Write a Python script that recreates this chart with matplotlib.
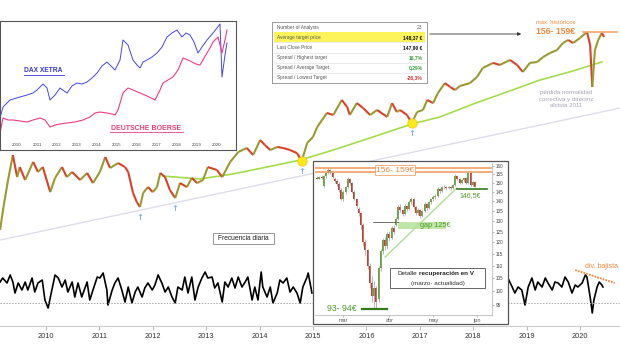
import numpy as np
import matplotlib
matplotlib.use("Agg")
import matplotlib.pyplot as plt
from matplotlib.collections import LineCollection
from matplotlib.patches import Rectangle
from matplotlib.lines import Line2D

plt.rcParams['font.family'] = ['Liberation Sans', 'DejaVu Sans']

#%% data

# main chart: Deutsche Boerse daily close (EUR)
price_t = [2009.14, 2009.21, 2009.29, 2009.38, 2009.46, 2009.51, 2009.61, 2009.76, 2009.85, 2009.94,
           2010.08, 2010.17, 2010.30, 2010.39, 2010.49, 2010.64, 2010.77, 2010.88, 2011.01, 2011.11,
           2011.20, 2011.35, 2011.48, 2011.54, 2011.63, 2011.70, 2011.76, 2011.82, 2011.91, 2012.00,
           2012.08, 2012.14, 2012.23, 2012.32, 2012.42, 2012.51, 2012.64, 2012.73, 2012.83, 2012.94,
           2013.03, 2013.20, 2013.30, 2013.45, 2013.60, 2013.76, 2013.88, 2014.01, 2014.10, 2014.20,
           2014.33, 2014.44, 2014.57, 2014.70, 2014.79, 2014.89, 2015.00, 2015.08, 2015.26, 2015.38,
           2015.54, 2015.64, 2015.69, 2015.82, 2015.94, 2016.07, 2016.20, 2016.39, 2016.48, 2016.57,
           2016.63, 2016.76, 2016.85, 2016.95, 2017.06, 2017.14, 2017.25, 2017.34, 2017.47, 2017.57,
           2017.66, 2017.75, 2017.94, 2018.07, 2018.18, 2018.37, 2018.50, 2018.69, 2018.82, 2018.93,
           2019.06, 2019.20, 2019.31, 2019.44, 2019.57, 2019.68, 2019.78, 2019.87, 2020.00, 2020.13,
           2020.19, 2020.23, 2020.28, 2020.34, 2020.41, 2020.45]
price_p = [24.4, 30.9, 39.1, 49.5, 40.2, 44.2, 39.1, 46.4, 42.2, 44.2,
           34.9, 39.9, 44.2, 40.2, 42.2, 39.1, 41.8, 38.0, 42.2, 48.6,
           43.8, 45.9, 44.2, 42.2, 34.6, 31.8, 30.3, 34.6, 36.6, 34.9,
           36.6, 41.8, 40.2, 35.6, 33.0, 38.0, 36.6, 39.9, 38.0, 39.1,
           44.2, 43.0, 40.2, 46.4, 50.9, 52.9, 49.5, 57.0, 54.4, 51.9,
           53.4, 52.9, 51.9, 50.4, 46.8, 55.4, 58.7, 64.5, 73.6, 72.2,
           83.2, 77.8, 72.2, 80.8, 77.1, 72.2, 75.7, 70.9, 80.8, 74.3,
           75.7, 72.2, 67.0, 74.3, 75.7, 83.2, 80.8, 88.9, 97.6, 94.0,
           91.4, 94.9, 97.6, 103.3, 112.5, 118.0, 115.8, 121.3, 115.8, 108.4,
           118.0, 119.1, 124.8, 129.6, 133.3, 142.4, 146.5, 142.4, 149.3, 158.0,
           139.8, 94.0, 133.3, 146.5, 156.5, 150.7]

# long moving average (green)
ma_t = [2012.19, 2012.88, 2013.50, 2014.14, 2014.76, 2015.38, 2016.01, 2016.85,
        2017.38, 2018.00, 2018.63, 2019.25, 2019.87, 2020.41]
ma_p = [40.6, 39.5, 41.4, 44.2, 47.2, 51.9, 57.6, 66.3, 70.9, 80.1, 89.7, 100.4, 109.4, 119.1]

# 2011 support line (grey)
trend_t = [2009.14, 2020.75]
trend_p = [22.2, 77.1]

# touches of the moving average and swing lows
dots_t = [2014.79, 2016.85]
dots_p = [46.8, 67.0]
lows_t = [2011.76, 2012.42, 2014.79, 2016.85]
lows_p = [30.3, 33.0, 46.8, 67.0]

# all time high zone
max_t = [2020.05, 2020.70]
max_p = [158.0, 158.0]

# oscillator (bottom panel), two visible pieces
osc_a_t = [2009.14, 2009.19, 2009.27, 2009.33, 2009.38, 2009.42, 2009.48, 2009.55, 2009.61, 2009.66,
           2009.74, 2009.79, 2009.85, 2009.93, 2009.98, 2010.04, 2010.11, 2010.17, 2010.23, 2010.30,
           2010.36, 2010.41, 2010.49, 2010.54, 2010.60, 2010.67, 2010.77, 2010.82, 2010.88, 2010.96,
           2011.01, 2011.07, 2011.14, 2011.16, 2011.24, 2011.29, 2011.35, 2011.42, 2011.48, 2011.54,
           2011.61, 2011.67, 2011.72, 2011.80, 2011.85, 2011.91, 2011.99, 2012.04, 2012.10, 2012.17,
           2012.23, 2012.29, 2012.36, 2012.42, 2012.47, 2012.55, 2012.60, 2012.66, 2012.73, 2012.79,
           2012.85, 2012.92, 2012.98, 2013.03, 2013.11, 2013.16, 2013.22, 2013.30, 2013.35, 2013.41,
           2013.48, 2013.54, 2013.60, 2013.67, 2013.73, 2013.78, 2013.86, 2013.91, 2013.97, 2014.03,
           2014.06, 2014.14, 2014.20, 2014.25, 2014.33, 2014.38, 2014.44, 2014.51, 2014.57, 2014.63,
           2014.70, 2014.76, 2014.81, 2014.89, 2014.91, 2014.98]
osc_a_v = [62.3, 68.5, 60.8, 73.1, 62.3, 45.4, 60.8, 50.0, 62.3, 50.0,
           68.5, 46.9, 60.8, 65.4, 34.6, 22.3, 50.0, 73.1, 68.5, 54.6,
           65.4, 46.9, 62.3, 39.2, 60.8, 39.2, 62.3, 34.6, 50.0, 70.0,
           68.5, 76.2, 50.0, 26.9, 50.0, 60.8, 68.5, 50.0, 31.5, 54.6,
           30.0, 46.9, 54.6, 39.2, 53.1, 60.8, 50.0, 57.7, 73.1, 60.8,
           46.9, 54.6, 39.2, 30.0, 54.6, 50.0, 70.0, 45.4, 70.0, 34.6,
           54.6, 68.5, 77.7, 68.5, 70.0, 53.1, 60.8, 31.5, 62.3, 54.6,
           68.5, 53.1, 70.0, 54.6, 62.3, 70.0, 34.6, 54.6, 34.6, 77.7,
           54.6, 39.2, 54.6, 30.0, 45.4, 65.4, 60.8, 68.5, 46.9, 54.6,
           45.4, 30.0, 54.6, 70.0, 76.2, 45.4]
osc_b_t = [2018.65, 2018.73, 2018.78, 2018.84, 2018.91, 2018.97, 2019.03, 2019.10, 2019.16, 2019.21,
           2019.29, 2019.35, 2019.40, 2019.48, 2019.53, 2019.59, 2019.66, 2019.72, 2019.78, 2019.85,
           2019.91, 2019.96, 2020.04, 2020.10, 2020.13, 2020.19, 2020.23, 2020.26, 2020.32, 2020.36,
           2020.41, 2020.43]
osc_b_v = [68.5, 54.6, 45.4, 54.6, 50.0, 26.9, 54.6, 68.5, 50.0, 62.3,
           54.6, 68.5, 60.8, 50.0, 62.3, 60.8, 54.6, 70.0, 62.3, 45.4,
           57.7, 54.6, 60.8, 73.1, 70.0, 39.2, 14.6, 34.6, 54.6, 62.3,
           57.7, 54.6]
div_t = [2019.91, 2020.65]
div_v = [80.8, 60.8]
years = list(range(2010, 2021))

# small comparison chart (relative level, top left)
dax_t = [2009.15, 2009.30, 2009.65, 2010.15, 2010.50, 2010.80, 2011.00, 2011.30, 2011.50, 2011.65,
         2011.90, 2012.15, 2012.50, 2012.75, 2013.00, 2013.25, 2013.50, 2013.75, 2014.00, 2014.25,
         2014.50, 2014.75, 2014.90, 2015.15, 2015.30, 2015.55, 2015.80, 2016.00, 2016.15, 2016.30,
         2016.50, 2016.75, 2017.00, 2017.25, 2017.50, 2017.75, 2018.00, 2018.25, 2018.45, 2018.65,
         2018.85, 2019.05, 2019.25, 2019.50, 2019.80, 2020.00, 2020.15, 2020.25, 2020.40, 2020.50]
dax_v = [32, 43, 50, 53, 55, 57, 60, 66, 62, 50,
         55, 62, 57, 64, 67, 66, 68, 72, 77, 84,
         88, 83, 80, 90, 110, 105, 90, 85, 82, 88,
         90, 93, 97, 103, 113, 117, 120, 113, 117, 115,
         108, 97, 103, 110, 117, 122, 126, 73, 95, 107]
db_t = [2009.15, 2009.30, 2009.55, 2009.80, 2010.15, 2010.50, 2010.80, 2011.15, 2011.40, 2011.65,
        2011.90, 2012.15, 2012.50, 2012.90, 2013.30, 2013.65, 2013.90, 2014.15, 2014.50, 2014.75,
        2014.90, 2015.05, 2015.30, 2015.55, 2015.80, 2016.15, 2016.50, 2016.90, 2017.15, 2017.30,
        2017.55, 2017.80, 2018.05, 2018.30, 2018.55, 2018.75, 2018.95, 2019.15, 2019.35, 2019.50,
        2019.65, 2019.80, 2020.05, 2020.25, 2020.40, 2020.50]
db_v = [17, 32, 30, 30, 29, 28, 30, 32, 30, 23,
        25, 26, 27, 28, 30, 33, 37, 38, 37, 36,
        35, 40, 57, 62, 60, 57, 54, 50, 60, 67,
        70, 73, 80, 92, 90, 88, 86, 85, 92, 97,
        102, 108, 113, 97, 110, 120]

# analysts table
tab_labels = ["Number of Analysts", "Average target price", "Last Close Price",
              "Spread / Highest target", "Spread / Average Target", "Spread / Lowest Target"]
tab_values = ["23", "148,37 €", "147,90 €", "16,7%", "0,29%", "-26,3%"]

# V recovery detail, daily candles 12 Feb - 29 May 2020
c_open = [153.0, 152.5, 153.5, 148.5, 154.0, 155.5, 157.5, 155.5, 152.0, 151.0,
          149.5, 146.0, 141.5, 145.0, 147.5, 152.5, 150.0, 145.0, 141.0, 136.0,
          134.0, 128.0, 120.0, 116.5, 110.0, 103.0, 98.0, 101.0, 97.0, 109.0,
          116.0, 121.0, 118.5, 124.0, 122.0, 126.5, 128.0, 131.0, 137.0, 135.5,
          133.5, 137.5, 136.0, 139.5, 141.5, 137.0, 134.0, 135.5, 132.5, 135.0,
          138.5, 136.5, 139.5, 141.0, 142.5, 143.0, 146.5, 145.5, 148.0, 147.5,
          147.0, 148.0, 147.0, 149.0, 154.0, 152.5, 150.0, 151.5, 153.0, 150.0,
          155.5, 149.0, 150.5]
c_high = [154.0, 154.0, 154.5, 154.5, 156.0, 158.5, 158.0, 156.0, 153.5, 152.0,
          150.5, 147.0, 146.0, 148.5, 153.5, 153.0, 150.5, 146.0, 141.5, 137.0,
          134.5, 129.0, 121.5, 117.0, 111.0, 106.0, 104.0, 102.0, 110.0, 117.0,
          122.0, 122.5, 125.0, 125.5, 127.5, 128.0, 132.0, 138.0, 138.5, 136.0,
          138.5, 138.0, 140.5, 142.5, 142.0, 137.5, 136.5, 136.0, 135.5, 139.5,
          139.0, 140.0, 141.5, 143.5, 144.0, 147.5, 147.0, 148.5, 149.0, 148.5,
          148.5, 148.5, 149.5, 155.0, 154.5, 153.0, 152.0, 153.5, 153.5, 156.5,
          156.0, 151.0, 151.0]
c_low = [152.0, 152.0, 152.5, 147.5, 153.0, 155.0, 155.0, 153.0, 150.0, 148.5,
         145.0, 140.5, 140.0, 144.0, 147.0, 149.0, 144.5, 140.5, 136.5, 132.5,
         126.0, 118.5, 114.5, 108.5, 101.0, 96.0, 94.0, 93.5, 96.0, 108.0,
         115.0, 116.5, 117.0, 120.5, 121.5, 124.0, 127.5, 130.5, 134.5, 132.5,
         133.0, 135.0, 135.5, 138.5, 136.0, 133.0, 133.0, 131.5, 132.0, 134.5,
         135.5, 136.0, 138.5, 140.0, 141.5, 142.5, 144.5, 145.0, 146.5, 146.0,
         146.5, 146.0, 146.5, 148.5, 151.5, 149.5, 149.5, 150.5, 149.5, 149.5,
         148.5, 148.5, 147.5]
c_close = [152.5, 153.5, 153.0, 154.0, 155.5, 157.5, 155.5, 153.5, 151.0, 149.5,
           146.0, 141.5, 145.0, 147.5, 152.5, 150.0, 145.0, 141.0, 137.5, 134.0,
           128.0, 120.0, 116.5, 110.0, 103.0, 98.0, 101.0, 96.0, 109.0, 116.0,
           121.0, 118.5, 124.0, 122.0, 126.5, 125.0, 131.0, 137.0, 135.5, 133.5,
           137.5, 136.0, 139.5, 141.5, 137.0, 134.0, 135.5, 132.5, 135.0, 138.5,
           136.5, 139.5, 141.0, 142.5, 143.0, 146.5, 145.5, 148.0, 147.5, 147.0,
           148.0, 147.0, 149.0, 154.0, 152.5, 150.0, 151.5, 153.0, 150.0, 155.5,
           149.0, 150.5, 148.0]
month_pos = [12, 33, 53, 73]
month_lab = ["mar", "abr", "may", "jun"]
inset_ticks = list(range(95, 161, 5))

#%% layout helpers (reference is 620 x 350 px)

W, H = 620, 350
fx = lambda x: x / W
fy = lambda y: 1 - y / H

ORANGE = '#f0883e'
LORANGE = '#f5a66b'
GREEN_TXT = '#4f9a2c'

fig = plt.figure(figsize=(6.2, 3.5), dpi=100)

def ftext(x, y, s, **kw):
    fig.text(fx(x), fy(y), s, **kw)

def fbox(x0, y0, x1, y1, z, ec='#555', lw=0.8):
    fig.add_artist(Rectangle((fx(x0), fy(y1)), fx(x1) - fx(x0), fy(y0) - fy(y1),
                             transform=fig.transFigure, facecolor='white',
                             edgecolor=ec, lw=lw, zorder=z))

XLIM = (2009.139, 2020.749)

#%% bottom oscillator
bx = fig.add_axes([0, fy(326), 1, (326 - 260) / H], zorder=1)
bx.set_facecolor('none')
bx.set_xlim(*XLIM)
bx.set_ylim(-5.4, 96.2)
bx.plot(osc_a_t, osc_a_v, color='black', lw=1.2)
bx.plot(osc_b_t, osc_b_v, color='black', lw=1.2)
bx.axhline(30, color='#aaaaaa', lw=0.7, ls=(0, (1.5, 1.5)))
bx.plot(div_t, div_v, color=ORANGE, lw=1.3, ls=(0, (1, 0.6)))
for s in ['top', 'left', 'right']:
    bx.spines[s].set_visible(False)
bx.spines['bottom'].set_color('#cccccc')
bx.set_yticks([])
bx.set_xticks(years)
bx.set_xticklabels([str(y) for y in years])
bx.tick_params(axis='x', length=3, color='#bbbbbb', labelsize=5.3,
               labelcolor='#333333', pad=2)

#%% main price chart
ax = fig.add_axes([0, 0, 1, 1], zorder=2)
ax.set_axis_off()
ax.set_yscale('log')
ax.set_xlim(*XLIM)
ax.set_ylim(7.87, 213.6)

ax.plot(trend_t, trend_p, color='#dddde9', lw=1.0)
ax.plot(ma_t, ma_p, color='#a3dd4c', lw=1.2)

pts = np.column_stack([price_t, price_p]).reshape(-1, 1, 2)
segs = np.concatenate([pts[:-1], pts[1:]], axis=1)
cols = np.where(np.diff(price_p) >= 0, '#9a9a30', '#d9412b')
ax.add_collection(LineCollection(segs, colors=cols, linewidths=1.5))

ax.plot(max_t, max_p, color=LORANGE, lw=1.2)
ax.scatter(dots_t, dots_p, s=45, color='#ffe81a', edgecolor='#f2c200', lw=0.5, zorder=4)
for t, p in zip(lows_t, lows_p):
    ax.annotate('↑', xy=(t, p), xytext=(0, -7.5), textcoords='offset points',
                ha='center', va='center', color='#7fb2e0', fontsize=6,
                fontweight='bold', family='DejaVu Sans')

ftext(556, 23, 'máx. históricos', color=ORANGE, fontsize=4.2, ha='center', va='center')
ftext(556, 32, '156- 159€', color=ORANGE, fontsize=6.2, fontweight='bold', ha='center', va='center')
ftext(566, 99, 'pérdida normalidad\ncorrectiva y directriz\nalcista 2011', color='#a3a3b8',
      fontsize=4.4, ha='center', va='center', linespacing=1.35)
ftext(618, 266, 'div. bajista', color=ORANGE, fontsize=5.0, ha='right', va='center')

fbox(213, 233, 274, 244, 3, ec='#888888', lw=0.6)
ftext(243.5, 238.5, 'Frecuencia diaria', fontsize=4.8, color='#222222', ha='center',
      va='center', zorder=3.1)

#%% comparison chart top left
ix = fig.add_axes([0, fy(150), fx(236), (150 - 21) / H], zorder=3)
ix.set_facecolor('white')
ix.set_xlim(2009.15, 2020.95)
ix.set_ylim(0, 129)
ix.plot(dax_t, dax_v, color='#4646e6', lw=0.7)
ix.plot(db_t, db_v, color='#ee3c82', lw=0.8)
for s in ix.spines.values():
    s.set_color('#555555')
    s.set_linewidth(0.8)
ix.set_yticks([])
ix.set_xticks(years)
ix.set_xticklabels([str(y) for y in years])
ix.tick_params(axis='x', length=0, labelsize=3.2, labelcolor='#444444', pad=-5)
ix.text(0.185, 0.615, 'DAX XETRA', transform=ix.transAxes, color='#3535d0',
        fontsize=4.8, fontweight='bold', ha='center', va='center')
ix.add_line(Line2D([0.1, 0.27], [0.585, 0.585], transform=ix.transAxes, color='#3535d0', lw=0.6))
ix.text(0.62, 0.17, 'DEUTSCHE BOERSE', transform=ix.transAxes, color='#e8407a',
        fontsize=5.0, fontweight='bold', ha='center', va='center')
ix.add_line(Line2D([0.465, 0.775], [0.138, 0.138], transform=ix.transAxes, color='#e8407a', lw=0.6))

#%% analysts table
tx = fig.add_axes([fx(272), fy(83), fx(427) - fx(272), (83 - 22) / H], zorder=3)
tx.set_facecolor('white')
tx.set_xlim(0, 1)
tx.set_ylim(len(tab_labels), 0)
tx.axhspan(1, 2, xmin=0.01, xmax=0.99, color='#fdf35a', lw=0)
for r in range(2, len(tab_labels)):
    tx.axhline(r, xmin=0.01, xmax=0.99, color='#e2e2e2', lw=0.5)
val_cols = ['#666666', '#111111', '#111111', '#3aa03a', '#3aa03a', '#d33030']
for r, (lab, val) in enumerate(zip(tab_labels, tab_values)):
    tx.text(0.03, r + 0.5, lab, fontsize=3.4, color='#555555', va='center', ha='left')
    tx.text(0.97, r + 0.5, val, fontsize=3.6, color=val_cols[r], va='center', ha='right',
            fontweight='normal' if r == 0 else 'bold')
for s in tx.spines.values():
    s.set_color('#9a9a9a')
    s.set_linewidth(0.7)
tx.set_xticks([])
tx.set_yticks([])

ax.annotate('', xy=(fx(524), fy(34)), xytext=(fx(427), fy(34)), xycoords='figure fraction',
            arrowprops=dict(arrowstyle='-|>', color='#333333', lw=0.6, mutation_scale=5))

#%% V recovery candlestick detail
fbox(313, 161, 508, 324, 4, ec='#555555', lw=0.9)
cx = fig.add_axes([fx(315), fy(315), fx(492) - fx(315), (315 - 163) / H], zorder=5)
cx.set_facecolor('white')
cx.set_yscale('log')
cx.set_xlim(-1, 79.8)
cx.set_ylim(91.4, 161.7)

cx.axhline(156.3, color=LORANGE, lw=1.3)
cx.axhline(158.7, color=LORANGE, lw=1.3)
cx.fill_between([37, 59], 126.2, 129.6, color='#bfe6a6', lw=0)
cx.plot([25.5, 37], [129.6, 129.6], color='#333333', lw=0.5)
cx.plot([31, 63.8], [113.6, 147.3], color='#b0dd95', lw=1.0)

idx = np.arange(len(c_open))
o = np.array(c_open)
c = np.array(c_close)
cx.vlines(idx, c_low, c_high, color='#9a9a9a', lw=0.5)
cx.bar(idx, c - o, bottom=o, width=0.9, color=np.where(c >= o, '#62a833', '#d7342a'), lw=0)

cx.plot([20.5, 31.9], [93.5, 93.5], color='#2e7d1a', lw=1.6)
cx.plot([63.8, 77.5], [146.5, 146.5], color='#2e7d1a', lw=1.2)
cx.text(35.5, 157.5, '156- 159€', color=ORANGE, fontsize=6, ha='center', va='center',
        bbox=dict(boxstyle='square,pad=0.15', fc='white', ec=LORANGE, lw=0.6))
cx.text(53.8, 127.9, 'gap 125€', color=GREEN_TXT, fontsize=5.3, ha='center', va='center')
cx.text(70, 142.9, '146,5€', color=GREEN_TXT, fontsize=5, ha='center', va='center')
cx.text(11.3, 93.6, '93- 94€', color=GREEN_TXT, fontsize=6.3, ha='center', va='center')

for s in ['top', 'left']:
    cx.spines[s].set_visible(False)
for s in ['right', 'bottom']:
    cx.spines[s].set_color('#bbbbbb')
    cx.spines[s].set_linewidth(0.6)
cx.yaxis.tick_right()
cx.minorticks_off()
cx.set_yticks(inset_ticks)
cx.set_yticklabels([str(v) for v in inset_ticks])
cx.set_xticks(month_pos)
cx.set_xticklabels(month_lab)
cx.tick_params(axis='y', length=1.5, color='#bbbbbb', labelsize=3.3, labelcolor='#444444', pad=1)
cx.tick_params(axis='x', length=1.5, color='#bbbbbb', labelsize=4, labelcolor='#555555', pad=1)

fbox(390, 268, 485, 288, 6, ec='#666666', lw=0.7)
ftext(417, 273.5, 'Detalle', fontsize=4.6, color='#222222', ha='right', va='center', zorder=7)
ftext(419, 273.5, 'recuperación en V', fontsize=4.6, fontweight='bold', color='#222222',
      ha='left', va='center', zorder=7)
ftext(437.5, 283, '(marzo- actualidad)', fontsize=4.5, color='#333333', ha='center',
      va='center', zorder=7)

fig.savefig('out.png', dpi=100, facecolor='white')
